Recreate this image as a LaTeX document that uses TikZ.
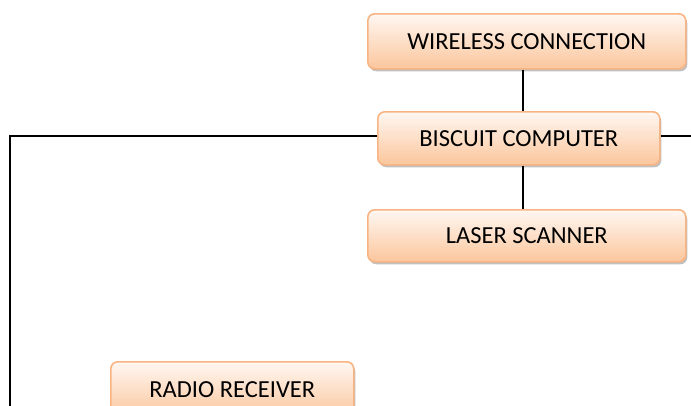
\documentclass[tikz,border=0pt]{standalone}
\usepackage{fontspec}
\setmainfont{Carlito}
\usetikzlibrary{shadows}
\definecolor{boxline}{HTML}{F8B482}
\definecolor{boxtop}{HTML}{FFF7F2}
\definecolor{boxbot}{HTML}{FBC69C}
\tikzset{
  blk/.style={draw=boxline, line width=1.6pt, rounded corners=7pt,
    top color=boxtop, bottom color=boxbot, anchor=north west, inner sep=0pt,
    font=\fontsize{24.5}{28}\selectfont, text=black,
    drop shadow={shadow xshift=1.5pt, shadow yshift=-2.5pt, fill=black!45, opacity=.55}},
  wire/.style={line width=1.4pt, draw=black}
}
\begin{document}
\begin{tikzpicture}[x=1pt,y=-1pt]
\useasboundingbox (0,0) rectangle (691,405);
\node[blk, minimum width=318pt, minimum height=55pt] (wl) at (367,13) {WIRELESS CONNECTION};
\node[blk, minimum width=282pt, minimum height=53pt] (bc) at (377,111) {BISCUIT COMPUTER};
\node[blk, minimum width=318pt, minimum height=52pt] (ls) at (367,209) {LASER SCANNER};
\node[blk, minimum width=243pt, minimum height=56pt] (rr) at (110,361) {RADIO RECEIVER};
\coordinate (bus) at (523,0);
\coordinate (lc) at (10,136);
\coordinate (lend) at (10,420);
\coordinate (rend) at (700,136);
\draw[wire] (wl.south -| bus) -- (bc.north -| bus);
\draw[wire] (bc.south -| bus) -- (ls.north -| bus);
\draw[wire] (bc.west |- lc) -- (lc) -- (lend);
\draw[wire] (bc.east |- rend) -- (rend);
\end{tikzpicture}
\end{document}
